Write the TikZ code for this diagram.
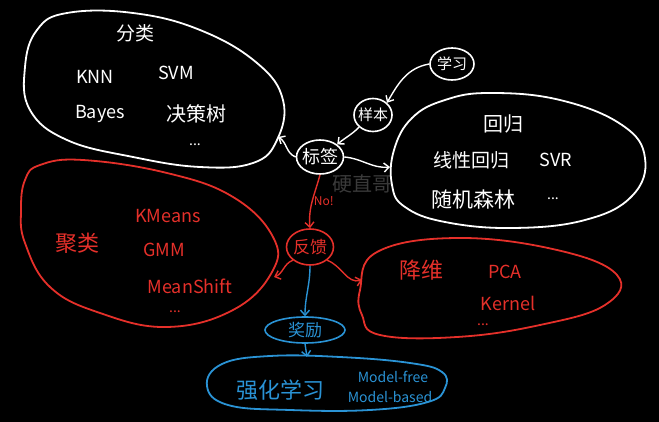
\documentclass[tikz,border=0pt]{standalone}
\usepackage{fontspec}
\newfontfamily\cjk{Noto Sans CJK SC}
\usetikzlibrary{shapes.geometric,arrows.meta}
\definecolor{rd}{HTML}{E5302A}
\definecolor{bl}{HTML}{2A93D5}
\definecolor{wm}{HTML}{3A3A3A}
\begin{document}
\begin{tikzpicture}[x=1pt,y=-1pt,
  every node/.style={font=\cjk\fontsize{18}{20}\selectfont},
  big/.style={font=\cjk\fontsize{22}{24}\selectfont},
  fs/.style={font=\cjk\fontsize{#1}{#1}\selectfont},
  dots/.style={font=\cjk\fontsize{14}{14}\selectfont, inner sep=0pt},
  blob/.style={line width=1.8pt, line join=round},
  circ/.style={ellipse, draw, line width=1.6pt, inner sep=0pt},
  conn/.style={line width=1.4pt, -{Straight Barb[length=5pt,width=9pt]}},
  wtxt/.style={text=white},
  rtxt/.style={text=rd},
  btxt/.style={text=bl}]
\fill[black] (0,0) rectangle (659,422);
\useasboundingbox (0,0) rectangle (659,422);
% watermark
\node[text=wm, fs=20, inner sep=0pt] (wmark) at (362,184) {硬直哥};
% classification blob
\draw[white, blob] plot[smooth cycle, tension=0.7] coordinates {
  (25,67) (37,30) (67,13) (133,13) (200,30) (257,63) (283,100) (277,140)
  (253,163) (200,167) (133,157) (67,140) (30,110)};
\node[wtxt, fs=19] (fenlei) at (135,33) {分类};
\node[wtxt] (knn) at (95,77) {KNN};
\node[wtxt] (svm) at (176,73) {SVM};
\node[wtxt] (bayes) at (100,114) {Bayes};
\node[wtxt, fs=20] (jcs) at (196,114) {决策树};
\node[wtxt, dots] (cdots) at (195,145) {...};
\coordinate (clsR) at (278,137);
% regression blob
\draw[white, blob] plot[smooth cycle, tension=0.7] coordinates {
  (392,185) (394,150) (412,118) (445,100) (490,93) (560,100) (622,125)
  (645,158) (632,196) (585,220) (513,228) (445,222) (405,207)};
\node[wtxt, fs=20] (huigui) at (503,124) {回归};
\node[wtxt, fs=19] (xxhg) at (471,160) {线性回归};
\node[wtxt] (svr) at (556,160) {SVR};
\node[wtxt, fs=21] (sjsl) at (473,200) {随机森林};
\node[wtxt, dots] (rdots) at (553,199) {...};
\coordinate (regL) at (390,167);
% small circles
\node[circ, white, minimum width=44pt, minimum height=32pt] (xuexi) at (452,64) {};
\node[wtxt, fs=15] (xuexiT) at (xuexi.center) {学习};
\node[circ, white, minimum width=38pt, minimum height=33pt] (yangben) at (373,115) {};
\node[wtxt, fs=15] (yangbenT) at (yangben.center) {样本};
\node[circ, white, minimum width=47pt, minimum height=34pt] (biaoqian) at (320,157) {};
\node[wtxt, fs=18] (biaoqianT) at (biaoqian.center) {标签};
\node[circ, rd, minimum width=47pt, minimum height=36pt] (fankui) at (310,247) {};
\node[rtxt, fs=17] (fankuiT) at (fankui.center) {反馈};
% clustering blob
\draw[rd, blob] plot[smooth cycle, tension=0.7] coordinates {
  (25,180) (40,165) (83,160) (167,173) (233,197) (273,237) (272,272)
  (233,310) (167,327) (100,313) (50,287) (25,243) (21,210)};
\node[rtxt, big] (julei) at (77,243) {聚类};
\node[rtxt] (kmeans) at (168,216) {KMeans};
\node[rtxt] (gmm) at (164,250) {GMM};
\node[rtxt] (meanshift) at (190,286) {MeanShift};
\node[rtxt, dots] (kdots) at (175,312) {...};
\coordinate (cluR) at (274,277);
% dimension reduction blob
\draw[rd, blob] plot[smooth cycle, tension=0.7] coordinates {
  (360,290) (377,252) (457,238) (557,250) (617,275) (605,305) (540,325)
  (457,337) (380,335) (362,315)};
\node[rtxt, big] (jiangwei) at (421,270) {降维};
\node[rtxt] (pca) at (505,272) {PCA};
\node[rtxt] (kernel) at (508,303) {Kernel};
\node[rtxt, dots] (ddots) at (483,325) {...};
\coordinate (dimL) at (362,280);
% reward
\node[circ, bl, minimum width=80pt, minimum height=26pt] (jiangli) at (305,330) {};
\node[btxt, fs=17] (jiangliT) at (jiangli.center) {奖励};
% RL blob
\draw[bl, blob] plot[smooth cycle, tension=0.7] coordinates {
  (207,386) (222,364) (270,356) (340,357) (410,363) (442,372) (445,388)
  (428,402) (370,410) (290,410) (228,405)};
\node[btxt, big] (qhxx) at (280,390) {强化学习};
\node[btxt, fs=14] (mfree) at (393,377) {Model-free};
\node[btxt, fs=14] (mbased) at (390,397) {Model-based};
\coordinate (rlTop) at (307,357);
% connectors
\draw[conn, white] (xuexi.west) to[out=190, in=60] (yangben.north east);
\draw[conn, white] (yangben.south west) to[out=225, in=40] (biaoqian.north east);
\draw[conn, white] (biaoqian.west) to[out=160, in=-30] (clsR);
\draw[conn, white] (biaoqian.east) to[out=-5, in=185] (regL);
\draw[conn, rd] (biaoqian.south) to[out=-105, in=95] node[pos=0.5, right=1pt, rtxt, fs=12, inner sep=0pt] {No!} (fankui.north);
\draw[conn, rd] (fankui.south west) to[out=200, in=20] (cluR);
\draw[conn, rd] (fankui.south east) to[out=-20, in=195] (dimL);
\draw[conn, bl] (fankui.south) to[out=-90, in=90] (jiangli.north);
\draw[conn, bl] (jiangli.south) -- (rlTop);
\end{tikzpicture}
\end{document}
